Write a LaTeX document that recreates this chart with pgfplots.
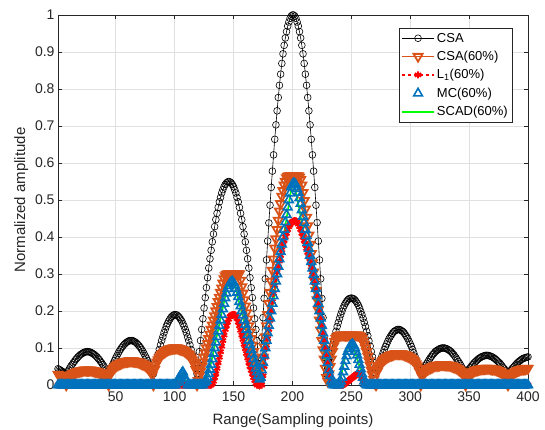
\documentclass[border=0pt]{standalone}
\usepackage{fontspec}
\setmainfont{Liberation Sans}
\usepackage{pgfplots}
\pgfplotsset{compat=1.18}
\usepackage{pgfplotstable}
\definecolor{mOrange}{HTML}{D95319}
\definecolor{mBlue}{HTML}{0072BD}
\definecolor{axgray}{HTML}{262626}

% x: sampling point; csa, o = CSA(60%), r = L1(60%), b = MC(60%), g = SCAD(60%)
\pgfplotstableread{
x csa o r b g
1 0.044 0.029 0 0 0.004
2 0.042 0.027 0 0 0.004
3 0.040 0.026 0 0 0.004
4 0.038 0.024 0 0 0.004
5 0.036 0.022 0 0 0.004
6 0.034 0.019 0 0 0.004
7 0.032 0.015 0 0 0.004
8 0.030 0.000 0 0 0.004
9 0.035 0.017 0 0 0.004
10 0.040 0.022 0 0 0.004
11 0.046 0.025 0 0 0.004
12 0.051 0.027 0 0 0.004
13 0.055 0.030 0 0 0.004
14 0.060 0.031 0 0 0.004
15 0.064 0.033 0 0 0.004
16 0.069 0.034 0 0 0.004
17 0.072 0.035 0 0 0.004
18 0.076 0.036 0 0 0.004
19 0.079 0.037 0 0 0.004
20 0.082 0.038 0 0 0.004
21 0.084 0.039 0 0 0.004
22 0.086 0.039 0 0 0.004
23 0.088 0.040 0 0 0.004
24 0.089 0.040 0 0 0.004
25 0.090 0.040 0 0 0.004
26 0.090 0.040 0 0 0.004
27 0.090 0.040 0 0 0.004
28 0.089 0.040 0 0 0.004
29 0.088 0.040 0 0 0.004
30 0.086 0.039 0 0 0.004
31 0.084 0.039 0 0 0.004
32 0.082 0.038 0 0 0.004
33 0.079 0.037 0 0 0.004
34 0.076 0.036 0 0 0.004
35 0.072 0.035 0 0 0.004
36 0.069 0.034 0 0 0.004
37 0.064 0.033 0 0 0.004
38 0.060 0.031 0 0 0.004
39 0.055 0.030 0 0 0.004
40 0.051 0.027 0 0 0.004
41 0.046 0.025 0 0 0.004
42 0.040 0.022 0 0 0.004
43 0.035 0.017 0 0 0.004
44 0.030 0.000 0 0 0.004
45 0.037 0.027 0 0 0.004
46 0.045 0.035 0 0 0.004
47 0.052 0.040 0 0 0.004
48 0.059 0.044 0 0 0.004
49 0.066 0.047 0 0 0.004
50 0.073 0.050 0 0 0.004
51 0.079 0.053 0 0 0.004
52 0.085 0.055 0 0 0.004
53 0.091 0.057 0 0 0.004
54 0.096 0.058 0 0 0.004
55 0.101 0.060 0 0 0.004
56 0.105 0.061 0 0 0.004
57 0.109 0.062 0 0 0.004
58 0.112 0.063 0 0 0.004
59 0.115 0.064 0 0 0.004
60 0.117 0.064 0 0 0.004
61 0.119 0.065 0 0 0.004
62 0.120 0.065 0 0 0.004
63 0.120 0.065 0 0 0.004
64 0.120 0.065 0 0 0.004
65 0.119 0.065 0 0 0.004
66 0.117 0.064 0 0 0.004
67 0.115 0.064 0 0 0.004
68 0.112 0.063 0 0 0.004
69 0.109 0.062 0 0 0.004
70 0.105 0.061 0 0 0.004
71 0.101 0.060 0 0 0.004
72 0.096 0.058 0 0 0.004
73 0.091 0.057 0 0 0.004
74 0.085 0.055 0 0 0.004
75 0.079 0.053 0 0 0.004
76 0.073 0.050 0 0 0.004
77 0.066 0.047 0 0 0.004
78 0.059 0.044 0 0 0.004
79 0.052 0.040 0 0 0.004
80 0.045 0.035 0 0 0.004
81 0.037 0.027 0 0 0.004
82 0.030 0.000 0 0 0.004
83 0.044 0.042 0 0 0.004
84 0.057 0.054 0 0 0.004
85 0.070 0.062 0 0 0.004
86 0.083 0.068 0 0 0.004
87 0.096 0.073 0 0 0.004
88 0.108 0.078 0 0 0.004
89 0.120 0.082 0 0 0.004
90 0.130 0.085 0 0 0.004
91 0.141 0.088 0 0 0.004
92 0.150 0.090 0 0 0.004
93 0.159 0.093 0 0 0.004
94 0.166 0.095 0 0 0.004
95 0.173 0.096 0 0 0.004
96 0.178 0.097 0 0 0.004
97 0.183 0.098 0 0 0.004
98 0.186 0.099 0 0 0.004
99 0.189 0.100 0 0 0.004
100 0.190 0.100 0 0 0.004
101 0.190 0.100 0 0 0.004
102 0.189 0.100 0 0.006 0.006
103 0.186 0.099 0 0.013 0.013
104 0.183 0.098 0 0.020 0.020
105 0.178 0.097 0 0.026 0.026
106 0.173 0.096 0 0.031 0.030
107 0.166 0.095 0 0.035 0.033
108 0.159 0.093 0 0.025 0.025
109 0.150 0.090 0 0.017 0.017
110 0.141 0.088 0 0.008 0.008
111 0.130 0.085 0 0 0.004
112 0.120 0.082 0 0 0.004
113 0.108 0.078 0 0 0.004
114 0.096 0.073 0 0 0.004
115 0.083 0.068 0 0 0.004
116 0.070 0.062 0 0 0.004
117 0.057 0.054 0 0 0.004
118 0.044 0.042 0 0 0.004
119 0.030 0.000 0 0 0.004
120 0.060 0.012 0 0 0.004
121 0.090 0.025 0 0 0.004
122 0.120 0.037 0 0 0.004
123 0.150 0.050 0 0 0.004
124 0.179 0.062 0 0 0.006
125 0.208 0.075 0 0.005 0.010
126 0.236 0.087 0 0.008 0.015
127 0.263 0.100 0 0.012 0.020
128 0.290 0.112 0 0.020 0.027
129 0.316 0.125 0 0.030 0.035
130 0.341 0.137 0 0.042 0.047
131 0.364 0.150 0 0.055 0.060
132 0.387 0.162 0.004 0.070 0.075
133 0.408 0.175 0.010 0.085 0.090
134 0.428 0.187 0.020 0.100 0.105
135 0.447 0.200 0.030 0.115 0.120
136 0.464 0.212 0.045 0.130 0.135
137 0.480 0.225 0.060 0.145 0.150
138 0.495 0.237 0.075 0.160 0.165
139 0.507 0.250 0.090 0.175 0.180
140 0.519 0.262 0.105 0.190 0.195
141 0.528 0.275 0.120 0.205 0.210
142 0.536 0.287 0.135 0.220 0.225
143 0.542 0.295 0.150 0.235 0.240
144 0.546 0.298 0.160 0.248 0.255
145 0.549 0.300 0.170 0.260 0.270
146 0.550 0.300 0.178 0.268 0.280
147 0.549 0.300 0.185 0.275 0.290
148 0.546 0.300 0.188 0.278 0.290
149 0.542 0.300 0.190 0.280 0.285
150 0.536 0.300 0.190 0.276 0.278
151 0.528 0.300 0.190 0.270 0.270
152 0.519 0.300 0.186 0.260 0.258
153 0.507 0.300 0.180 0.250 0.245
154 0.495 0.300 0.170 0.238 0.233
155 0.480 0.300 0.160 0.225 0.220
156 0.464 0.283 0.148 0.213 0.208
157 0.447 0.265 0.135 0.200 0.195
158 0.428 0.248 0.123 0.188 0.183
159 0.408 0.230 0.110 0.175 0.170
160 0.387 0.213 0.098 0.163 0.155
161 0.364 0.195 0.085 0.150 0.140
162 0.341 0.178 0.073 0.135 0.128
163 0.316 0.160 0.060 0.120 0.115
164 0.290 0.143 0.050 0.108 0.103
165 0.263 0.125 0.040 0.095 0.090
166 0.236 0.108 0.030 0.083 0.078
167 0.208 0.090 0.020 0.070 0.065
168 0.179 0.073 0.012 0.058 0.053
169 0.150 0.055 0.005 0.045 0.040
170 0.120 0.038 0 0.035 0.030
171 0.070 0.020 0 0.025 0.020
172 0.020 0.005 0 0.015 0.010
173 0.074 0.020 0 0.020 0.020
174 0.128 0.048 0 0.040 0.035
175 0.182 0.075 0.025 0.060 0.050
176 0.234 0.103 0.050 0.080 0.070
177 0.287 0.130 0.075 0.100 0.090
178 0.338 0.160 0.100 0.120 0.110
179 0.389 0.190 0.125 0.140 0.130
180 0.438 0.220 0.150 0.160 0.150
181 0.486 0.250 0.175 0.180 0.170
182 0.534 0.280 0.200 0.200 0.190
183 0.578 0.310 0.225 0.220 0.210
184 0.622 0.340 0.248 0.240 0.230
185 0.664 0.370 0.270 0.260 0.250
186 0.703 0.395 0.288 0.280 0.270
187 0.741 0.420 0.305 0.300 0.290
188 0.777 0.445 0.320 0.320 0.310
189 0.810 0.470 0.335 0.340 0.330
190 0.840 0.490 0.350 0.360 0.350
191 0.869 0.510 0.365 0.380 0.370
192 0.895 0.525 0.378 0.400 0.390
193 0.918 0.540 0.390 0.420 0.410
194 0.938 0.550 0.400 0.440 0.430
195 0.955 0.560 0.410 0.460 0.450
196 0.970 0.563 0.420 0.480 0.470
197 0.981 0.565 0.428 0.500 0.490
198 0.991 0.565 0.433 0.518 0.510
199 0.997 0.565 0.438 0.535 0.530
200 1.000 0.565 0.441 0.542 0.545
201 1.000 0.565 0.443 0.545 0.550
202 0.997 0.565 0.444 0.544 0.535
203 0.991 0.565 0.443 0.540 0.520
204 0.981 0.565 0.440 0.530 0.505
205 0.970 0.565 0.435 0.520 0.490
206 0.955 0.562 0.428 0.505 0.472
207 0.938 0.555 0.420 0.490 0.455
208 0.918 0.540 0.410 0.473 0.437
209 0.895 0.520 0.400 0.455 0.420
210 0.869 0.498 0.390 0.438 0.402
211 0.840 0.475 0.380 0.420 0.385
212 0.810 0.453 0.369 0.403 0.367
213 0.777 0.430 0.358 0.385 0.350
214 0.741 0.405 0.346 0.368 0.332
215 0.703 0.380 0.333 0.350 0.315
216 0.664 0.355 0.319 0.333 0.297
217 0.622 0.330 0.305 0.315 0.280
218 0.578 0.305 0.290 0.298 0.262
219 0.534 0.280 0.275 0.280 0.245
220 0.486 0.255 0.258 0.260 0.227
221 0.439 0.230 0.240 0.240 0.210
222 0.389 0.203 0.220 0.220 0.190
223 0.338 0.175 0.200 0.200 0.170
224 0.287 0.148 0.180 0.180 0.150
225 0.234 0.120 0.160 0.160 0.130
226 0.182 0.095 0.140 0.140 0.110
227 0.128 0.070 0.120 0.120 0.090
228 0.074 0.045 0.100 0.100 0.070
229 0.030 0.020 0.080 0.080 0.050
230 0.045 0.010 0.060 0.060 0.035
231 0.061 0.030 0.040 0.040 0.020
232 0.076 0.050 0.025 0.025 0.012
233 0.090 0.070 0.010 0.010 0.008
234 0.105 0.090 0.004 0.003 0.005
235 0.119 0.105 0 0 0.004
236 0.133 0.117 0 0 0.004
237 0.145 0.125 0 0 0.004
238 0.158 0.130 0 0 0.004
239 0.169 0.133 0 0 0.004
240 0.180 0.134 0 0.003 0.010
241 0.190 0.135 0 0.010 0.020
242 0.199 0.135 0 0.020 0.035
243 0.208 0.135 0 0.035 0.050
244 0.215 0.135 0.002 0.050 0.065
245 0.221 0.135 0.005 0.065 0.080
246 0.226 0.135 0.008 0.078 0.093
247 0.230 0.135 0.010 0.090 0.105
248 0.233 0.135 0.012 0.098 0.108
249 0.234 0.135 0.015 0.105 0.110
250 0.235 0.135 0.018 0.108 0.108
251 0.234 0.135 0.020 0.110 0.105
252 0.233 0.135 0.022 0.107 0.098
253 0.230 0.135 0.025 0.100 0.090
254 0.226 0.135 0.028 0.090 0.080
255 0.221 0.135 0.030 0.080 0.070
256 0.215 0.135 0.031 0.068 0.060
257 0.208 0.133 0.030 0.055 0.050
258 0.199 0.130 0.026 0.043 0.040
259 0.190 0.125 0.020 0.030 0.030
260 0.180 0.118 0.012 0.020 0.020
261 0.169 0.110 0.005 0.010 0.010
262 0.158 0.100 0.002 0.003 0.006
263 0.145 0.090 0 0 0.004
264 0.133 0.078 0 0 0.004
265 0.119 0.065 0 0 0.004
266 0.105 0.053 0 0 0.004
267 0.090 0.040 0 0 0.004
268 0.076 0.028 0 0 0.004
269 0.061 0.015 0 0 0.004
270 0.045 0.005 0 0 0.004
271 0.030 0.000 0 0 0.004
272 0.040 0.036 0 0 0.004
273 0.050 0.045 0 0 0.004
274 0.059 0.052 0 0 0.004
275 0.069 0.057 0 0 0.004
276 0.078 0.062 0 0 0.004
277 0.087 0.066 0 0 0.004
278 0.096 0.069 0 0 0.004
279 0.104 0.072 0 0 0.004
280 0.111 0.074 0 0 0.004
281 0.118 0.076 0 0 0.004
282 0.125 0.078 0 0 0.004
283 0.130 0.080 0 0 0.004
284 0.135 0.081 0 0 0.004
285 0.140 0.082 0 0 0.004
286 0.144 0.083 0 0 0.004
287 0.146 0.084 0 0 0.004
288 0.148 0.085 0 0 0.004
289 0.150 0.085 0 0 0.004
290 0.150 0.085 0 0 0.004
291 0.150 0.085 0 0 0.004
292 0.148 0.085 0 0 0.004
293 0.146 0.084 0 0 0.004
294 0.144 0.083 0 0 0.004
295 0.140 0.082 0 0 0.004
296 0.135 0.081 0 0 0.004
297 0.130 0.080 0 0 0.004
298 0.125 0.078 0 0 0.004
299 0.118 0.076 0 0 0.004
300 0.111 0.074 0 0 0.004
301 0.104 0.072 0 0 0.004
302 0.096 0.069 0 0 0.004
303 0.087 0.066 0 0 0.004
304 0.078 0.062 0 0 0.004
305 0.069 0.057 0 0 0.004
306 0.059 0.052 0 0 0.004
307 0.050 0.045 0 0 0.004
308 0.040 0.036 0 0 0.004
309 0.030 0.000 0 0 0.004
310 0.036 0.023 0 0 0.004
311 0.042 0.029 0 0 0.004
312 0.047 0.034 0 0 0.004
313 0.053 0.037 0 0 0.004
314 0.058 0.040 0 0 0.004
315 0.063 0.042 0 0 0.004
316 0.068 0.045 0 0 0.004
317 0.073 0.046 0 0 0.004
318 0.077 0.048 0 0 0.004
319 0.082 0.049 0 0 0.004
320 0.085 0.051 0 0 0.004
321 0.089 0.052 0 0 0.004
322 0.092 0.053 0 0 0.004
323 0.094 0.053 0 0 0.004
324 0.096 0.054 0 0 0.004
325 0.098 0.054 0 0 0.004
326 0.099 0.055 0 0 0.004
327 0.100 0.055 0 0 0.004
328 0.100 0.055 0 0 0.004
329 0.100 0.055 0 0 0.004
330 0.099 0.055 0 0 0.004
331 0.098 0.054 0 0 0.004
332 0.096 0.054 0 0 0.004
333 0.094 0.053 0 0 0.004
334 0.092 0.053 0 0 0.004
335 0.089 0.052 0 0 0.004
336 0.085 0.051 0 0 0.004
337 0.082 0.049 0 0 0.004
338 0.077 0.048 0 0 0.004
339 0.073 0.046 0 0 0.004
340 0.068 0.045 0 0 0.004
341 0.063 0.042 0 0 0.004
342 0.058 0.040 0 0 0.004
343 0.053 0.037 0 0 0.004
344 0.047 0.034 0 0 0.004
345 0.042 0.029 0 0 0.004
346 0.036 0.023 0 0 0.004
347 0.030 0.000 0 0 0.004
348 0.034 0.019 0 0 0.004
349 0.039 0.024 0 0 0.004
350 0.043 0.028 0 0 0.004
351 0.047 0.031 0 0 0.004
352 0.051 0.033 0 0 0.004
353 0.055 0.035 0 0 0.004
354 0.059 0.037 0 0 0.004
355 0.062 0.039 0 0 0.004
356 0.065 0.040 0 0 0.004
357 0.068 0.041 0 0 0.004
358 0.071 0.042 0 0 0.004
359 0.073 0.043 0 0 0.004
360 0.075 0.043 0 0 0.004
361 0.077 0.044 0 0 0.004
362 0.078 0.044 0 0 0.004
363 0.079 0.045 0 0 0.004
364 0.080 0.045 0 0 0.004
365 0.080 0.045 0 0 0.004
366 0.080 0.045 0 0 0.004
367 0.079 0.045 0 0 0.004
368 0.078 0.044 0 0 0.004
369 0.077 0.044 0 0 0.004
370 0.075 0.043 0 0 0.004
371 0.073 0.043 0 0 0.004
372 0.071 0.042 0 0 0.004
373 0.068 0.041 0 0 0.004
374 0.065 0.040 0 0 0.004
375 0.062 0.039 0 0 0.004
376 0.059 0.037 0 0 0.004
377 0.055 0.035 0 0 0.004
378 0.051 0.033 0 0 0.004
379 0.047 0.031 0 0 0.004
380 0.043 0.028 0 0 0.004
381 0.039 0.024 0 0 0.004
382 0.034 0.019 0 0 0.004
383 0.030 0.000 0 0 0.004
384 0.034 0.019 0 0 0.004
385 0.038 0.024 0 0 0.004
386 0.042 0.028 0 0 0.004
387 0.046 0.031 0 0 0.004
388 0.049 0.033 0 0 0.004
389 0.053 0.035 0 0 0.004
390 0.056 0.037 0 0 0.004
391 0.060 0.039 0 0 0.004
392 0.063 0.040 0 0 0.004
393 0.065 0.041 0 0 0.004
394 0.068 0.042 0 0 0.004
395 0.070 0.043 0 0 0.004
396 0.072 0.043 0 0 0.004
397 0.073 0.044 0 0 0.004
398 0.074 0.044 0 0 0.004
399 0.075 0.045 0 0 0.004
400 0.076 0.045 0 0 0.004
}\data

\begin{document}
\begin{tikzpicture}
\begin{axis}[
  scale only axis,
  width=470pt, height=370pt,
  xmin=1, xmax=400, ymin=0, ymax=1,
  xtick={50,100,...,400},
  ytick={0,0.1,...,1},
  tick align=inside,
  major tick length=4pt,
  grid=major,
  grid style={black!12, line width=0.5pt},
  axis line style={axgray, line width=0.5pt},
  every tick/.style={axgray, line width=0.5pt},
  tick label style={font=\fontsize{14}{16}\selectfont, text=axgray},
  xticklabel style={yshift=-3pt},
  label style={font=\fontsize{15}{18}\selectfont, text=axgray},
  xlabel style={yshift=-5pt},
  /pgf/number format/assume math mode=true,
  xlabel={Range(Sampling points)},
  ylabel={Normalized amplitude},
  clip=false,
  legend style={at={(1,1)}, anchor=north east, xshift=-16pt, yshift=-12.7pt,
    draw=axgray, line width=0.5pt, fill=white,
    font=\fontsize{13}{15}\selectfont, cells={anchor=west},
    row sep=3.5pt, inner xsep=2pt, inner ysep=3pt},
  legend image code/.code={\draw[mark repeat=2, mark phase=2]
    plot coordinates {(0pt,0pt) (16pt,0pt) (32pt,0pt)};},
]
\addplot[black, line width=0.6pt, mark=o, mark size=3.4pt, mark options={solid}]
  table[x=x, y=csa]{\data};
\addlegendentry{CSA}
\addplot[mOrange, line width=1.8pt, mark=triangle, mark size=5.2pt,
  mark options={solid, rotate=180}]
  table[x=x, y=o]{\data};
\addlegendentry{CSA(60\%)}
\addplot[red, dashed, line width=1.8pt, mark=asterisk, mark size=3.6pt,
  mark options={solid}]
  table[x=x, y=r]{\data};
\addlegendentry{L\textsubscript{1}(60\%)}
\addplot[mBlue, only marks, line width=1.6pt, mark=triangle, mark size=5pt]
  table[x=x, y=b]{\data};
\addlegendentry{MC(60\%)}
\addplot[green, line width=1.6pt]
  table[x=x, y=g]{\data};
\addlegendentry{SCAD(60\%)}
\end{axis}
\pgfresetboundingbox
\path[use as bounding box] ([shift={(-58pt,-45pt)}]current axis.south west)
  rectangle ([shift={(17pt,15pt)}]current axis.north east);
\end{tikzpicture}
\end{document}
